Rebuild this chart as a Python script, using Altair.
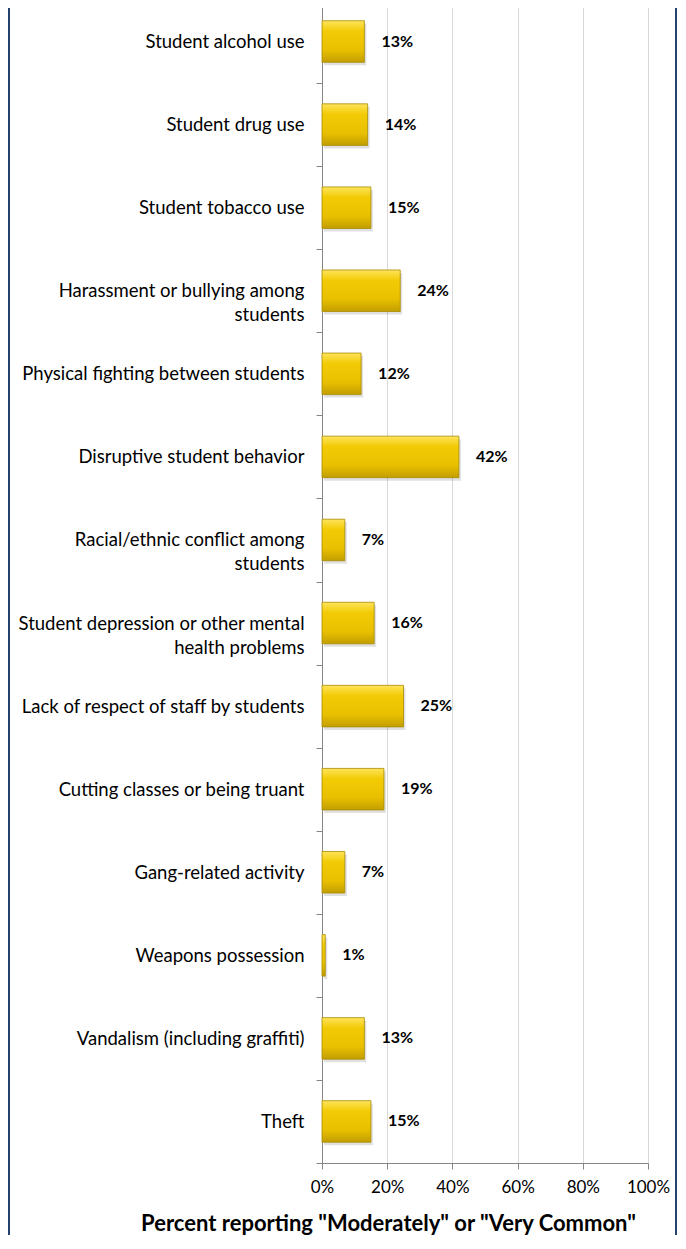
import altair as alt
import pandas as pd

categories = [
    "Student alcohol use",
    "Student drug use",
    "Student tobacco use",
    "Harassment or bullying among\nstudents",
    "Physical fighting between students",
    "Disruptive student behavior",
    "Racial/ethnic conflict among\nstudents",
    "Student depression or other mental\nhealth problems",
    "Lack of respect of staff by students",
    "Cutting classes or being truant",
    "Gang-related activity",
    "Weapons possession",
    "Vandalism (including graffiti)",
    "Theft",
]
values = [13, 14, 15, 24, 12, 42, 7, 16, 25, 19, 7, 1, 13, 15]
x_ticks = [0, 20, 40, 60, 80, 100]

df = pd.DataFrame({"label": categories, "value": values})

FONT = "Lato"

x_enc = alt.X(
    "value:Q",
    scale=alt.Scale(domain=[0, 100]),
    axis=alt.Axis(
        values=x_ticks,
        labelExpr="datum.value + '%'",
        labelFlush=False,
        grid=True,
        gridColor="#D9D9D9",
        gridWidth=1,
        domainColor="#868686",
        tickColor="#868686",
        tickSize=6,
        labelPadding=10,
        labelFont=FONT,
        labelFontSize=17,
        labelColor="#000000",
        title='Percent reporting "Moderately" or "Very Common"',
        titleFont=FONT,
        titleFontSize=22,
        titleFontWeight="bold",
        titleColor="#000000",
        titleX=66,
        titleY=67,
        titleAlign="center",
        titleBaseline="alphabetic",
    ),
)

y_enc = alt.Y(
    "label:N",
    sort=None,
    scale=alt.Scale(paddingInner=0, paddingOuter=0),
    axis=alt.Axis(
        title=None,
        labelExpr="split(datum.label, '\\n')",
        labelFont=FONT,
        labelFontSize=18.5,
        labelColor="#000000",
        labelLineHeight=24,
        labelLimit=400,
        labelPadding=12,
        tickBand="extent",
        tickSize=6,
        tickColor="#868686",
        domainColor="#868686",
    ),
)

gold = alt.Gradient(
    gradient="linear",
    stops=[
        alt.GradientStop(color="#FFE45C", offset=0),
        alt.GradientStop(color="#F2CB05", offset=0.25),
        alt.GradientStop(color="#E9C000", offset=0.7),
        alt.GradientStop(color="#C29E00", offset=1),
    ],
    x1=0, x2=0, y1=0, y2=1,
)

base = alt.Chart(df)

shadow = base.mark_bar(
    height={"band": 0.5}, color="#000000", opacity=0.12, xOffset=2, yOffset=3
).encode(x=x_enc, y=y_enc)

bars = base.mark_bar(
    height={"band": 0.5}, color=gold, stroke="#A88A00", strokeWidth=0.8
).encode(x=x_enc, y=y_enc)

text = base.transform_calculate(txt="datum.value + '%'").mark_text(
    align="left", baseline="middle", dx=17, font=FONT, fontWeight="bold",
    fontSize=16, color="#000000"
).encode(x="value:Q", y=alt.Y("label:N", sort=None), text="txt:N")

border_df = pd.DataFrame({"side": ["left", "right"]})
left_border = alt.Chart(border_df).transform_filter("datum.side == 'left'").mark_rule(
    color="#24406E", strokeWidth=2
).encode(x=alt.value(-313), y=alt.value(-20), y2=alt.value(1300))
right_border = alt.Chart(border_df).transform_filter("datum.side == 'right'").mark_rule(
    color="#24406E", strokeWidth=2
).encode(x=alt.value(354), y=alt.value(-20), y2=alt.value(1300))

chart = alt.layer(shadow, bars, text, left_border, right_border).properties(
    width=326,
    height=1163,
    autosize=alt.AutoSizeParams(type="none"),
    padding={"left": 314, "top": -8, "right": 30, "bottom": 72},
).configure_view(stroke=None)

chart.save("out.html", embed_options={"renderer": "svg", "actions": False})
